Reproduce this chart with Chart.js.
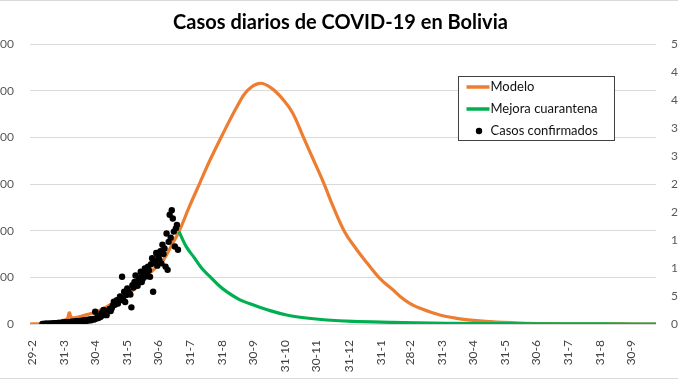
<!DOCTYPE html>
<html>
<head>
<meta charset="utf-8">
<script src="https://cdn.jsdelivr.net/npm/chart.js@4.4.1/dist/chart.umd.min.js"></script>
<style>
  html, body { margin: 0; padding: 0; background: #fff; overflow: hidden; width: 678px; height: 381px; }
  #wrap { position: absolute; left: -20px; top: 0; width: 721px; height: 381px; }
</style>
</head>
<body>
<div id="wrap"><canvas id="c" width="721" height="381"></canvas></div>
<script>
// ---- Data (days counted from 29-2-2020) ----
const titleText = 'Casos diarios de COVID-19 en Bolivia';
const tickDays   = [0, 31, 61, 92, 122, 153, 184, 214, 245, 275, 306, 337, 365, 396, 426, 457, 487, 518, 549, 579];
const tickLabels = ['29-2','31-3','30-4','31-5','30-6','31-7','31-8','30-9','31-10','30-11','31-12','31-1','28-2','31-3','30-4','31-5','30-6','31-7','31-8','30-9'];

const modelDays  = [-2, 8, 20, 30, 34, 36, 38, 42, 50, 56, 59, 70, 78, 88, 98, 106, 114, 121, 127, 136, 142, 152, 162, 172, 183, 198, 208, 220, 231, 243, 252, 262, 272, 282, 291, 302, 314, 324, 336, 349, 356, 365, 375, 394, 417, 443, 472, 498, 530, 570, 603];
const modelCases = [0, 5, 30, 80, 110, 240, 140, 135, 180, 220, 236, 340, 450, 590, 729, 900, 1093, 1240, 1371, 1736, 1979, 2514, 3015, 3514, 4014, 4657, 5000, 5158, 5060, 4800, 4515, 4014, 3514, 3015, 2514, 1979, 1586, 1300, 979, 729, 585, 443, 336, 193, 100, 50, 20, 8, 3, 1, 0];

const quarantineDays  = [142, 149, 156, 164, 172, 180, 188, 200, 214, 230, 246, 265, 285, 310, 349, 400, 450, 500, 550, 603];
const quarantineCases = [1979, 1657, 1443, 1193, 1014, 836, 693, 529, 407, 286, 193, 129, 86, 55, 36, 15, 6, 2, 1, 0];

const confirmedFirstDay = 10;
const confirmedCases = [
  2,1,3,4,5,3,6,8,5,9,
  12,10,14,18,16,20,22,15,25,30,
  28,35,27,40,38,32,45,42,50,36,
  48,55,44,60,52,58,65,50,70,62,
  75,80,68,85,72,90,95,78,105,110,
  98,264,120,140,130,165,150,230,180,300,
  210,240,190,260,290,320,280,340,390,480,
  410,450,510,440,520,590,560,1014,510,690,
  470,620,760,700,650,630,357,830,780,900,
  1040,870,820,940,1000,1120,900,970,1060,1190,
  1020,1090,1230,1150,1010,1280,1410,690,1350,1300,
  1520,1250,1450,1380,1560,1300,1700,1500,1620,1230,
  1940,1160,1760,2340,1850,2440,2260,1980,1660,2050,
  2120,1590
];

const seriesNames = ['Modelo', 'Mejora cuarantena', 'Casos confirmados'];
const seriesColors = ['#ED7D31', '#00B050', '#000000'];

// ---- Build ----
const toXY = (xs, ys) => xs.map((x, i) => ({ x: x, y: ys[i] }));
const confirmedXY = confirmedCases.map((v, i) => ({ x: confirmedFirstDay + i, y: v }));
const fmt = (v) => v >= 1000 ? Math.floor(v / 1000) + ' ' + String(v % 1000).padStart(3, '0') : String(v);

Chart.defaults.font.family = 'Lato';
Chart.defaults.font.size = 12;
Chart.defaults.color = '#595959';

const frame = {
  id: 'frame',
  beforeDraw(chart) {
    const c = chart.ctx;
    c.save();
    c.fillStyle = '#fff';
    c.fillRect(0, 0, chart.width, chart.height);
    c.strokeStyle = '#d9d9d9';
    c.lineWidth = 1;
    c.strokeRect(0.5, 0.5, chart.width - 1, 378);
    c.restore();
  }
};

const boxLegend = {
  id: 'boxLegend',
  afterDraw(chart) {
    const c = chart.ctx, a = chart.chartArea;
    const x0 = Math.round(a.left + 428) + 0.5, y0 = Math.round(a.top + 32) + 0.5;
    const w = 156, h = 64;
    c.save();
    c.fillStyle = '#fff';
    c.fillRect(x0, y0, w, h);
    c.strokeStyle = '#404040';
    c.lineWidth = 1;
    c.strokeRect(x0, y0, w, h);
    c.font = '13px Lato';
    c.textBaseline = 'middle';
    chart.data.datasets.forEach((ds, i) => {
      const yy = y0 + 10.5 + i * 22;
      if (ds.showLine) {
        c.strokeStyle = ds.borderColor;
        c.lineWidth = 3.5;
        c.beginPath();
        c.moveTo(x0 + 8, yy);
        c.lineTo(x0 + 31, yy);
        c.stroke();
      } else {
        c.fillStyle = ds.backgroundColor;
        c.beginPath();
        c.arc(x0 + 20.5, yy, 3.2, 0, Math.PI * 2);
        c.fill();
      }
      c.fillStyle = '#111';
      c.fillText(ds.label, x0 + 32, yy);
    });
    c.restore();
  }
};

new Chart(document.getElementById('c'), {
  type: 'scatter',
  data: {
    datasets: [
      { label: seriesNames[0], data: toXY(modelDays, modelCases), showLine: true,
        borderColor: seriesColors[0], backgroundColor: seriesColors[0], borderWidth: 3.2,
        pointRadius: 0, tension: 0.4, order: 2 },
      { label: seriesNames[1], data: toXY(quarantineDays, quarantineCases), showLine: true,
        borderColor: seriesColors[1], backgroundColor: seriesColors[1], borderWidth: 3.2,
        pointRadius: 0, cubicInterpolationMode: 'monotone', order: 1 },
      { label: seriesNames[2], data: confirmedXY, showLine: false,
        borderColor: seriesColors[2], backgroundColor: seriesColors[2], borderWidth: 0,
        pointRadius: 3.2, order: 0 }
    ]
  },
  options: {
    responsive: false,
    animation: false,
    layout: { padding: 0 },
    plugins: {
      legend: { display: false },
      tooltip: { enabled: false },
      title: {
        display: true, text: titleText, color: '#000',
        font: { family: 'Lato', size: 20, weight: 'bold' },
        padding: { top: 11, bottom: 9 }
      }
    },
    scales: {
      x: {
        type: 'linear', position: 'bottom', min: -2, max: 603,
        afterBuildTicks: (s) => { s.ticks = tickDays.map(v => ({ value: v })); },
        afterFit: (s) => { s.height = 57; },
        grid: { display: false },
        border: { display: false },
        ticks: {
          autoSkip: false, minRotation: 90, maxRotation: 90, padding: 8, color: '#404040',
          callback: (v) => { const i = tickDays.indexOf(v); return i >= 0 ? tickLabels[i] : ''; }
        }
      },
      y: {
        position: 'left', min: 0, max: 6000,
        afterFit: (s) => { s.width = 50; },
        grid: { color: '#d9d9d9', lineWidth: 1, drawTicks: false },
        border: { display: false },
        ticks: { stepSize: 1000, padding: 16, color: '#595959', callback: (v) => fmt(v) }
      },
      y2: {
        position: 'right', min: 0, max: 5000,
        afterFit: (s) => { s.width = 45; },
        grid: { display: false, drawTicks: false },
        border: { display: false },
        ticks: { stepSize: 500, padding: 15, color: '#595959', callback: (v) => fmt(v) }
      }
    }
  },
  plugins: [frame, boxLegend]
});
</script>
</body>
</html>
